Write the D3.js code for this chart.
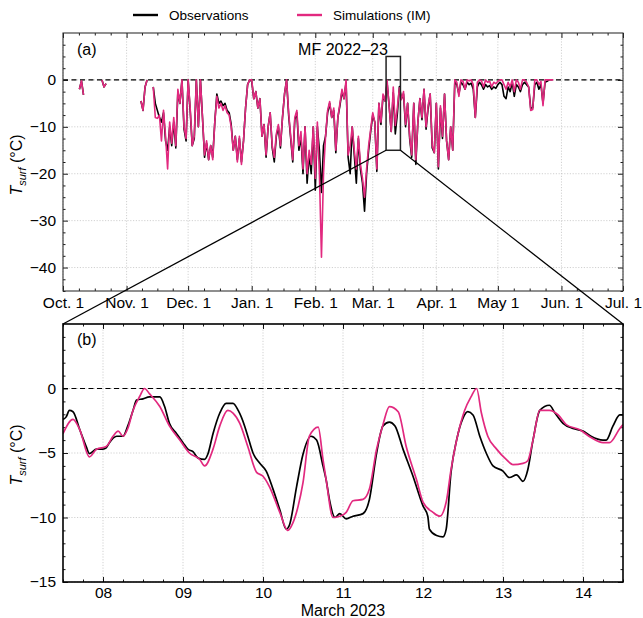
<!DOCTYPE html>
<html>
<head>
<meta charset="utf-8">
<script src="https://cdn.jsdelivr.net/npm/d3@7"></script>
<style>
  body { margin: 0; background: #fff; }
  svg { display: block; font-family: "Liberation Sans", Arial, sans-serif; }
  .tick text { font-size: 15.5px; fill: #000; }
  .lbl { font-size: 16px; fill: #000; }
  .leg text { font-size: 13.5px; fill: #000; }
</style>
</head>
<body>
<svg id="chart" width="643" height="618"></svg>
<script>
/* global d3 */
// ——— data, panel (a): daily T_surf from 1 Oct 2022 (index = day)
const obsA = [
  null,null,null,null,null,null,null,null,-2.0,-0.2,
  -3.2,null,null,null,null,null,null,null,null,0,
  -1.5,-0.8,null,null,null,null,null,null,null,null,
  null,null,null,null,null,null,null,null,-4.5,-6.5,
  -1.5,0,null,null,-1.5,-5,-6.5,-8,-9,-7,
  -13,-15,-10,-14,-9,-14.5,-2.5,-5,0,-10.5,
  -13,0,-6.5,-14,-12.5,0,-10,0,-8,-16.5,
  -13.5,-17,-14,-16.5,-9,-3,-5,-4.5,-5.5,-5,
  -6.5,-7,-9.5,-15,-12,-17,-12.5,-17.5,-13,-6,
  -1,0,-0.3,-4,-2.5,-6,-4,-12,-9.5,-16.5,
  -10,-7,-14.5,-17.5,-12,-10,-14.5,-8,-3,0,
  -7.5,-12.5,-17.5,-8.5,-7,-15,-12,-20,-10,-22,
  -16,-20,-10,-23.5,-10,-15,-24,-14,-12,-7,
  -5,-8,-6.5,-15.5,-8,-5.5,-2.5,-4,-0.5,-16.5,
  -20,-10,-16,-22,-12.5,-19,-22,-28,-20,-15,
  -11,-7.5,-9,-19.5,-5,-9.5,-3.5,-4.5,-0.7,-5.5,
  -11,-2.7,-11.5,-7.2,-1.4,-4,-3,-10,-5,-12.5,
  -16.5,-5,-18,-9,-4,-8.5,-2,-10.5,-6,-3,
  -14.5,-15.5,-5,-19,-6,-12.5,-3,-13,-17,-10,
  -15,-0.5,-1,-3,-0.5,-1,-2,-0.5,-1,-0.7,
  -2,-8,-1.5,-0.5,-1,-2,-1,-1.5,-1.2,-2,
  -1.5,-1.8,-1,-0.5,-1,-3.5,-4,-1.5,-2.5,-0.5,
  -3.5,-1,-1.5,-2.5,-1,-0.5,-1,-1.5,-6,-6,
  -1,-0.5,-2,-1,-5,-0.5,-0.3,0,null,null
];
const simA = [
  null,null,null,null,null,null,null,null,-2.0,-0.2,
  -3.2,null,null,null,null,null,null,null,null,0,
  -1.5,-0.8,null,null,null,null,null,null,null,null,
  null,null,null,null,null,null,null,null,-4.5,-6.5,
  -1.5,0,null,null,-1.5,-8,-8.2,-7.5,-13,-6.5,
  -12,-19,-9,-13.5,-8,-14,-2,-5,0,-10,
  -12.5,0,-6,-14,-12,0,-10,0,-8,-16,
  -13,-17,-14,-17,-9,-3.5,-6,-5,-6.5,-5.5,
  -7,-7.5,-10,-15,-12,-17.5,-12,-18,-13,-6,
  -1,0,0,-4,-2.5,-6,-4,-12,-9.5,-16,
  -10,-7,-14,-16.5,-11.5,-9.5,-14,-8,-3,0,
  -7,-12,-17,-8,-6.5,-14,-11,-19,-10,-20,
  -15,-18,-10,-21,-9,-20,-37.8,-20,-12,-6.5,
  -4.6,-8,-6,-15,-8,-5,-2,-4,0,-16,
  -14,-10,-15,-19,-12,-18,-21,-25,-19,-14,
  -10.5,-7,-9,-19,-5,-9,-3,-4.5,-0.1,-5.8,
  -11,-1.5,-9.7,-5.9,-1.7,-4.2,-2.5,-9.5,-5,-12,
  -16,-5,-17,-9,-4,-8,-2,-10,-5.5,-3,
  -14,-15.5,-5,-18.5,-5.5,-12,-3,-13,-17,-10,
  -15,0,-0.5,-3.5,0,-0.3,-2,0,-0.2,0,
  -1,-8,-0.5,0,-0.2,-1.5,0,-0.5,-0.3,-1.5,
  -0.5,-0.8,-0.3,0,0,-1,-2,-0.5,-1.5,0,
  -2.5,0,-0.5,-2,0,0,-0.5,-1.5,-6.5,-6.3,
  0,0,-1,-0.3,-5.5,0,0,0,0,0
];

// ——— data, panel (b): March 2023 (time = day of month, fractional)
const obsBTime = [7.5,7.54,7.58,7.625,7.71,7.79,7.83,7.92,8.0,8.04,8.08,8.17,8.25,8.31,8.375,8.42,8.5,8.58,8.71,8.77,8.83,8.92,
  9.0,9.06,9.125,9.19,9.27,9.31,9.375,9.46,9.54,9.625,9.69,9.77,9.81,9.875,9.96,10.04,10.125,10.21,10.29,10.33,10.42,10.5,
  10.6,10.67,10.75,10.79,10.83,10.9,10.96,11.04,11.125,11.25,11.33,11.42,11.5,11.58,11.65,11.75,11.875,12.0,12.06,12.08,
  12.17,12.25,12.29,12.35,12.42,12.5,12.56,12.625,12.71,12.79,12.875,13.0,13.08,13.17,13.25,13.31,13.375,13.46,13.58,
  13.65,13.75,13.875,14.0,14.1,14.25,14.29,14.375,14.46,14.5];
const obsB = [-2.4,-2.2,-1.7,-1.8,-3.2,-4.5,-5.05,-4.7,-4.7,-4.6,-4.2,-3.7,-3.7,-2.9,-1.7,-0.9,-0.8,-0.65,-0.65,-1.4,-2.7,-3.5,
  -4.2,-4.7,-4.9,-5.4,-5.5,-5.1,-3.5,-1.9,-1.15,-1.15,-1.7,-2.9,-3.7,-5.0,-5.8,-6.4,-7.8,-9.4,-10.9,-10.6,-7.6,-5.1,
  -3.7,-4.0,-6.0,-7.1,-8.6,-10.0,-9.7,-10.1,-9.9,-9.7,-8.6,-5.0,-2.9,-2.6,-2.9,-4.7,-6.8,-9.1,-9.9,-10.9,
  -11.4,-11.5,-10.9,-6.5,-4.0,-2.3,-1.8,-2.05,-3.7,-5.0,-6.0,-6.4,-6.9,-6.7,-7.2,-6.3,-4.0,-1.7,-1.3,
  -1.9,-2.7,-3.1,-3.3,-3.7,-4.0,-4.0,-2.9,-2.05,-2.05];
const simBTime = [7.5,7.625,7.71,7.83,7.92,8.04,8.125,8.19,8.25,8.31,8.375,8.46,8.52,8.58,8.71,8.83,8.96,9.08,9.21,9.27,
  9.375,9.46,9.56,9.625,9.71,9.81,9.92,10.0,10.08,10.21,10.31,10.375,10.44,10.5,10.58,10.69,10.75,10.79,10.875,10.96,
  11.04,11.125,11.25,11.33,11.42,11.5,11.58,11.69,11.79,11.92,12.0,12.125,12.21,12.29,12.35,12.42,12.52,12.6,12.67,
  12.73,12.81,12.92,13.04,13.125,13.25,13.31,13.375,13.46,13.58,13.69,13.79,13.96,14.1,14.25,14.33,14.46,14.5];
const simB = [-3.5,-2.4,-3.2,-5.3,-4.7,-4.5,-3.7,-3.3,-3.7,-3.1,-1.7,-0.6,0,-0.4,-1.4,-2.9,-4.0,-5.0,-5.5,-6.0,
  -4.7,-2.9,-1.7,-1.9,-2.7,-4.5,-6.5,-6.8,-7.6,-9.6,-11.0,-10.4,-9.1,-7.3,-3.7,-3.0,-5.5,-7.1,-10.0,-9.9,
  -9.6,-8.7,-8.6,-7.8,-4.7,-2.8,-1.4,-1.8,-4.5,-7.1,-8.8,-9.6,-9.9,-8.8,-6.3,-4.0,-1.7,-0.65,0,
  -1.9,-3.7,-4.7,-5.5,-5.9,-5.8,-5.6,-4.0,-1.7,-1.7,-2.05,-2.8,-3.2,-3.8,-4.2,-4.2,-3.1,-2.8];

// ——— tick labels
const monthLabels = ["Oct. 1","Nov. 1","Dec. 1","Jan. 1","Feb. 1","Mar. 1","Apr. 1","May 1","Jun. 1","Jul. 1"];
const dayLabels = ["08","09","10","11","12","13","14"];
const yTicksA = [-40,-30,-20,-10,0];
const yTicksB = [-15,-10,-5,0];

const PINK = "#e2297f";
const DAY = 864e5;
const seasonStart = Date.UTC(2022, 9, 1);
const marchStart = Date.UTC(2023, 2, 1);
const zoomFrom = Date.UTC(2023, 2, 7, 12), zoomTo = Date.UTC(2023, 2, 14, 12);
const fmtY = d => d < 0 ? "\u2212" + Math.abs(d) : String(d);

const svg = d3.select("#chart");

// ——— panel geometry
const A = { l: 63, r: 623, t: 33, b: 291 };
const B = { l: 63, r: 623, t: 324, b: 582 };

const xA = d3.scaleUtc().domain([new Date(seasonStart), new Date(Date.UTC(2023, 6, 1))]).range([A.l, A.r]);
const yA = d3.scaleLinear().domain([-45, 10]).range([A.b, A.t]);
const xB = d3.scaleUtc().domain([new Date(zoomFrom), new Date(zoomTo)]).range([B.l, B.r]);
const yB = d3.scaleLinear().domain([-15, 5]).range([B.b, B.t]);

const monthTicks = d3.utcMonth.range(new Date(seasonStart), new Date(Date.UTC(2023, 6, 2)));
const monthMinor = [];
for (let i = 0; i < monthTicks.length - 1; i++) {
  const a = +monthTicks[i], b = +monthTicks[i + 1];
  for (let k = 1; k < 4; k++) monthMinor.push(new Date(a + (b - a) * k / 4));
}
const dayTicks = d3.utcDay.range(new Date(Date.UTC(2023, 2, 8)), new Date(Date.UTC(2023, 2, 15)));
const hourMinor = d3.utcHour.every(6).range(new Date(zoomFrom), new Date(zoomTo + 1));

function axes(P, x, y, xMaj, xMin, xLab, yMaj, yMin, xPad) {
  const g = svg.append("g");
  // grid
  g.selectAll(".gx").data(xMaj).enter().append("line")
    .attr("x1", d => x(d)).attr("x2", d => x(d)).attr("y1", P.t).attr("y2", P.b)
    .attr("stroke", "#bdbdbd").attr("stroke-width", 0.7).attr("stroke-dasharray", "1.2,1.6");
  g.selectAll(".gy").data(yMaj).enter().append("line")
    .attr("x1", P.l).attr("x2", P.r).attr("y1", d => y(d)).attr("y2", d => y(d))
    .attr("stroke", "#bdbdbd").attr("stroke-width", 0.7).attr("stroke-dasharray", "1.2,1.6");
  // zero line
  g.append("line").attr("x1", P.l).attr("x2", P.r).attr("y1", y(0)).attr("y2", y(0))
    .attr("stroke", "#000").attr("stroke-width", 1.2).attr("stroke-dasharray", "5,3.5");

  const put = (axis, tr) => {
    const a = g.append("g").attr("transform", tr).call(axis);
    a.attr("font-size", null).attr("font-family", null);
    a.select(".domain").remove();
    a.selectAll(".tick line").attr("stroke", "#000").attr("stroke-width", 0.9);
    return a;
  };
  put(d3.axisBottom(x).tickValues(xMaj).tickSize(-5).tickPadding(xPad).tickFormat((d, i) => xLab[i]), `translate(0,${P.b})`);
  put(d3.axisBottom(x).tickValues(xMin).tickSize(-2.5).tickFormat(""), `translate(0,${P.b})`);
  put(d3.axisTop(x).tickValues(xMaj).tickSize(-5).tickFormat(""), `translate(0,${P.t})`);
  put(d3.axisTop(x).tickValues(xMin).tickSize(-2.5).tickFormat(""), `translate(0,${P.t})`);
  put(d3.axisLeft(y).tickValues(yMaj).tickSize(-5).tickPadding(7).tickFormat(fmtY), `translate(${P.l},0)`);
  put(d3.axisLeft(y).tickValues(yMin).tickSize(-2.5).tickFormat(""), `translate(${P.l},0)`);
  put(d3.axisRight(y).tickValues(yMaj).tickSize(-5).tickFormat(""), `translate(${P.r},0)`);
  put(d3.axisRight(y).tickValues(yMin).tickSize(-2.5).tickFormat(""), `translate(${P.r},0)`);
  return g;
}

function frame(P, w, c) {
  svg.append("rect").attr("x", P.l).attr("y", P.t).attr("width", P.r - P.l).attr("height", P.b - P.t)
    .attr("fill", "none").attr("stroke", c).attr("stroke-width", w);
}

function yLabel(cy) {
  const t = svg.append("text").attr("class", "lbl")
    .attr("transform", `translate(22,${cy}) rotate(-90)`).attr("text-anchor", "middle");
  t.append("tspan").attr("font-style", "italic").text("T");
  t.append("tspan").attr("font-style", "italic").attr("font-size", 11).attr("dy", 3.5).text("surf");
  t.append("tspan").attr("dy", -3.5).text(" (°C)");
}

const clip = (id, P) => svg.append("clipPath").attr("id", id).append("rect")
  .attr("x", P.l).attr("y", P.t).attr("width", P.r - P.l).attr("height", P.b - P.t);
clip("clipA", A); clip("clipB", B);

// ——— panel (a)
const minorA = d3.range(-45, 10.01, 2.5).filter(v => v % 10 !== 0);
axes(A, xA, yA, monthTicks, monthMinor, monthLabels, yTicksA, minorA, 5.5);

const lineA = d3.line()
  .defined(d => d.v !== null)
  .x(d => xA(new Date(seasonStart + d.i * DAY)))
  .y(d => yA(d.v));
const gA = svg.append("g").attr("clip-path", "url(#clipA)");
gA.append("path").datum(obsA.map((v, i) => ({ i, v })))
  .attr("d", lineA).attr("fill", "none").attr("stroke", "#000").attr("stroke-width", 1.6).attr("stroke-linejoin", "round");
gA.append("path").datum(simA.map((v, i) => ({ i, v })))
  .attr("d", lineA).attr("fill", "none").attr("stroke", PINK).attr("stroke-width", 1.6).attr("stroke-linejoin", "round");
frame(A, 1.1, "#333");

svg.append("text").attr("class", "lbl").attr("x", 77).attr("y", 54.5).text("(a)");
svg.append("text").attr("class", "lbl").attr("x", (A.l + A.r) / 2).attr("y", 54.5)
  .attr("text-anchor", "middle").text("MF 2022\u201323");
yLabel(165);

// ——— panel (b)
const minorB = d3.range(-15, 5.01, 1).filter(v => v % 5 !== 0);
axes(B, xB, yB, dayTicks, hourMinor, dayLabels, yTicksB, minorB, 4.5);

const toDate = t => new Date(marchStart + (t - 1) * DAY);
const lineB = d3.line().curve(d3.curveMonotoneX)
  .x(d => xB(toDate(d[0]))).y(d => yB(d[1]));
const gB = svg.append("g").attr("clip-path", "url(#clipB)");
gB.append("path").datum(obsBTime.map((t, i) => [t, obsB[i]]))
  .attr("d", lineB).attr("fill", "none").attr("stroke", "#000").attr("stroke-width", 1.7);
gB.append("path").datum(simBTime.map((t, i) => [t, simB[i]]))
  .attr("d", lineB).attr("fill", "none").attr("stroke", PINK).attr("stroke-width", 1.7);
frame(B, 1.6, "#000");

svg.append("text").attr("class", "lbl").attr("x", 77).attr("y", 345).text("(b)");
svg.append("text").attr("class", "lbl").attr("font-size", "15.5px").attr("x", (B.l + B.r) / 2).attr("y", 615.5)
  .attr("text-anchor", "middle").text("March 2023");
yLabel(455);

// ——— inset box + connectors
const bx0 = xA(new Date(zoomFrom)), bx1 = xA(new Date(zoomTo));
const by0 = yA(5), by1 = yA(-15);
svg.append("rect").attr("x", bx0).attr("y", by0).attr("width", bx1 - bx0).attr("height", by1 - by0)
  .attr("fill", "none").attr("stroke", "#222").attr("stroke-width", 1.5);
svg.append("line").attr("x1", bx0).attr("y1", by1).attr("x2", B.l).attr("y2", B.t)
  .attr("stroke", "#000").attr("stroke-width", 1.3);
svg.append("line").attr("x1", bx1).attr("y1", by1).attr("x2", B.r).attr("y2", B.t)
  .attr("stroke", "#000").attr("stroke-width", 1.3);

// ——— legend
const leg = [{ name: "Observations", c: "#000", x: 133 }, { name: "Simulations (IM)", c: PINK, x: 297 }];
const lg = svg.selectAll(".leg").data(leg).enter().append("g").attr("class", "leg");
lg.append("line").attr("x1", d => d.x).attr("x2", d => d.x + 25).attr("y1", 15).attr("y2", 15)
  .attr("stroke", d => d.c).attr("stroke-width", 2.4);
lg.append("text").attr("x", d => d.x + 36).attr("y", 20).text(d => d.name);
</script>
</body>
</html>
